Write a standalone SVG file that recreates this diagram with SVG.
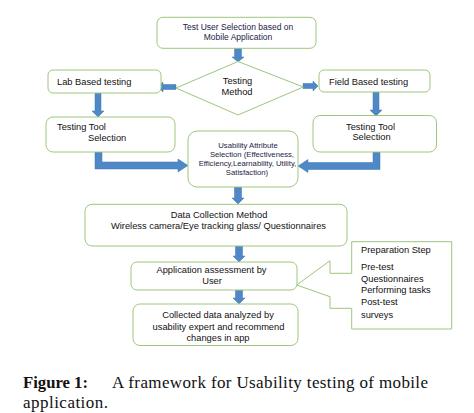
<svg xmlns="http://www.w3.org/2000/svg" width="474" height="413" viewBox="0 0 474 413">
<style>
.box{fill:#fff;stroke:#9dc67f;stroke-width:1}
.arr{fill:#4f88c6;stroke:#3f74b0;stroke-width:0.5}
text{font-family:"Liberation Sans",Arial,sans-serif;font-size:9.3px;fill:#111}
.c{text-anchor:middle}
.p{fill:#231c48}
.s{font-size:7.7px}
.cap{font-family:"Liberation Serif","Times New Roman",serif;font-size:17px;fill:#111}
</style>
<rect width="474" height="413" fill="#fff"/>
<g id="connectors">
<path class="arr" d="M234.5,48 H241.5 V57 H244 L238,62 L232,57 H234.5 Z"/>
<path class="arr" d="M176,84.5 V89.5 H163 V92 L158,87 L163,82 V84.5 Z"/>
<path class="arr" d="M303,83.5 V88.5 H313 V91 L318,86 L313,81 V83.5 Z"/>
<path class="arr" d="M95,93 H101 V111 H104 L98,117 L92,111 H95 Z"/>
<path class="arr" d="M373,92 H379 V110 H382 L376,116 L370,110 H373 Z"/>
<path class="arr" d="M95,152 H102 V162 H178 V159 L188,165.5 L178,172 V169 H95 Z"/>
<path class="arr" d="M380,152 H373 V162.5 H308 V159.5 L298,166 L308,172.5 V169.5 H380 Z"/>
<path class="arr" d="M234.5,187 H241.5 V198 H244 L238,204 L232,198 H234.5 Z"/>
<path class="arr" d="M235.5,246 H242.5 V256 H245 L239,262 L233,256 H235.5 Z"/>
<path class="arr" d="M235.5,290 H242.5 V298 H245 L239,304 L233,298 H235.5 Z"/>
</g>
<g id="n-top">
<rect class="box" x="157" y="17.3" width="159" height="31" rx="6"/>
<text class="c p" x="238" y="30" style="font-size:8.5px">Test User Selection based on</text>
<text class="c p" x="238" y="40" style="font-size:8.5px">Mobile Application</text>
</g>
<g id="n-method">
<polygon class="box" points="176,88 238,61.5 303.3,87 238,115"/>
<text class="c" x="237.5" y="83.5">Testing</text>
<text class="c" x="237" y="95">Method</text>
</g>
<g id="n-lab">
<rect class="box" x="48" y="70" width="113" height="23" rx="5"/>
<text x="57" y="85">Lab Based testing</text>
</g>
<g id="n-field">
<rect class="box" x="319" y="70" width="111" height="22" rx="5"/>
<text x="329" y="85">Field Based testing</text>
</g>
<g id="n-tool-left">
<rect class="box" x="46" y="117" width="129" height="35" rx="7"/>
<text x="57" y="130">Testing Tool</text>
<text x="88" y="140.5">Selection</text>
</g>
<g id="n-tool-right">
<rect class="box" x="313" y="115.5" width="123.5" height="36.5" rx="7"/>
<text class="c" x="370.5" y="129.5">Testing Tool</text>
<text class="c" x="371.5" y="140">Selection</text>
</g>
<g id="n-usability">
<rect class="box" x="188" y="131" width="110" height="56" rx="9"/>
<text class="c p s" x="248" y="147.8">Usability Attribute</text>
<text class="c p s" x="252" y="156.8">Selection (Effectiveness,</text>
<text class="c p s" x="247.5" y="166">Efficiency,Learnability, Utility,</text>
<text class="c p s" x="247" y="175">Satisfaction)</text>
</g>
<g id="n-data">
<rect class="box" x="85" y="204.3" width="262" height="41.7" rx="7"/>
<text class="c" x="219" y="218.3">Data Collection Method</text>
<text class="c" x="218.5" y="229.3">Wireless camera/Eye tracking glass/ Questionnaires</text>
</g>
<g id="n-prep">
<path class="box" d="M351.7,241.7 H451.7 V329 H351.7 V308.3 H330 V296.7 L296.7,285 L330,260.7 V273.3 H351.7 Z"/>
<text x="361" y="253.3">Preparation Step</text>
<text x="361" y="270">Pre-test</text>
<text x="361" y="282.3">Questionnaires</text>
<text x="361" y="293.3">Performing tasks</text>
<text x="361" y="305">Post-test</text>
<text x="361" y="317.6">surveys</text>
</g>
<g id="n-assess">
<rect class="box" x="131" y="262" width="166" height="28" rx="6"/>
<text class="c" x="211.5" y="273.3">Application assessment  by</text>
<text class="c" x="212" y="284.3">User</text>
</g>
<g id="n-collected">
<rect class="box" x="133" y="304" width="165" height="41.5" rx="7"/>
<text class="c" x="218" y="317.6">Collected data analyzed by</text>
<text class="c" x="218.5" y="330">usability expert and recommend</text>
<text class="c" x="218" y="341">changes in app</text>
</g>
<g id="caption">
<text class="cap" x="23" y="388" font-weight="bold" textLength="65" lengthAdjust="spacingAndGlyphs">Figure 1:</text>
<text class="cap" x="112" y="388" textLength="316">A framework for Usability testing of mobile</text>
<text class="cap" x="23" y="407.5" textLength="85">application.</text>
</g>
</svg>
